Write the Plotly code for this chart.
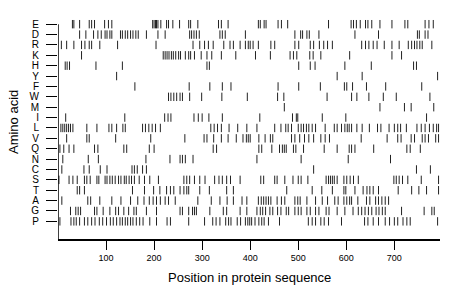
import plotly.graph_objects as go

# amino acids from bottom row to top row
amino_acids = ["P", "G", "A", "T", "S", "C", "N", "Q", "V", "L",
               "I", "M", "W", "F", "Y", "H", "K", "R", "D", "E"]

# positions (residue numbers) of each amino acid in the sequence
pos_E = [30, 33, 45, 65, 70, 76, 97, 105, 112, 197, 200, 203, 205, 208, 214, 226, 230, 239, 253,
         272, 276, 291, 334, 340, 354, 417, 421, 429, 433, 458, 465, 478, 563, 610, 615, 621, 629,
         640, 645, 653, 670, 695, 722, 728, 764, 772, 781]
pos_D = [45, 58, 74, 83, 90, 98, 102, 108, 112, 130, 134, 140, 145, 151, 156, 162, 167, 184, 208,
         223, 274, 278, 283, 288, 294, 337, 342, 348, 390, 493, 505, 509, 518, 523, 543, 618, 667,
         748, 752, 764, 770]
pos_R = [7, 18, 33, 49, 56, 65, 70, 87, 124, 204, 281, 295, 305, 313, 323, 345, 358, 365, 379, 390,
         396, 400, 406, 417, 443, 451, 493, 501, 525, 532, 544, 553, 561, 571, 632, 640, 647, 656,
         664, 679, 695, 710, 729, 736, 742, 747, 753, 758, 778]
pos_K = [49, 219, 223, 227, 231, 236, 240, 245, 251, 255, 265, 272, 276, 284, 298, 310, 320, 340,
         370, 411, 442, 483, 490, 497, 524, 531, 547, 607, 695, 715]
pos_H = [15, 19, 24, 79, 134, 310, 315, 501, 525, 535, 597, 652, 740, 746]
pos_Y = [122, 581, 633, 790]
pos_F = [160, 273, 316, 342, 360, 458, 501, 546, 596, 601, 613, 642, 682, 757]
pos_W = [230, 235, 241, 247, 254, 259, 274, 299, 341, 394, 457, 470, 560, 611, 622, 647, 677, 704, 774]
pos_M = [471, 670, 721, 735, 782]
pos_I = [16, 139, 222, 229, 235, 283, 292, 300, 314, 342, 420, 488, 496, 499, 550, 599, 767]
pos_L = [6, 10, 14, 18, 22, 26, 31, 60, 81, 106, 112, 122, 135, 140, 176, 182, 189, 196, 203, 213,
         318, 325, 332, 340, 356, 374, 393, 414, 451, 464, 474, 479, 486, 500, 506, 511, 517, 522,
         529, 536, 556, 575, 581, 590, 597, 602, 606, 611, 622, 633, 648, 665, 672, 689, 700, 707,
         713, 725, 747, 756, 764, 773, 781, 788, 792]
pos_V = [18, 60, 65, 120, 193, 264, 304, 310, 324, 340, 354, 371, 385, 392, 396, 400, 418, 431, 442,
         447, 486, 493, 503, 513, 522, 532, 547, 556, 565, 631, 685, 707, 714, 735, 742, 758, 764,
         771, 786, 792]
pos_Q = [4, 12, 23, 33, 76, 83, 137, 143, 190, 200, 323, 330, 418, 424, 445, 461, 467, 471, 475,
         490, 495, 511, 554, 581, 606, 611, 618, 657, 726, 733, 754]
pos_N = [10, 63, 84, 183, 233, 254, 259, 265, 281, 414, 506, 604, 692]
pos_C = [8, 54, 65, 88, 102, 154, 159, 165, 176, 184, 532, 746, 775]
pos_S = [2, 23, 31, 40, 55, 60, 67, 81, 85, 98, 102, 108, 113, 119, 126, 131, 138, 142, 148, 153,
         159, 169, 180, 191, 209, 262, 268, 274, 284, 295, 306, 326, 335, 342, 351, 359, 379, 422,
         428, 451, 456, 472, 489, 500, 506, 520, 558, 563, 567, 571, 575, 581, 595, 601, 608, 615,
         625, 699, 704, 710, 717, 728, 756, 792]
pos_T = [40, 45, 55, 155, 180, 199, 212, 226, 234, 241, 254, 262, 268, 272, 295, 315, 351, 365, 476,
         529, 549, 571, 595, 599, 618, 635, 643, 649, 656, 667, 708, 736, 751, 767, 792]
pos_A = [8, 62, 68, 87, 112, 131, 151, 166, 179, 190, 198, 205, 213, 223, 230, 244, 291, 319, 337,
         352, 365, 383, 393, 417, 423, 428, 433, 438, 443, 456, 465, 472, 493, 499, 504, 518, 536,
         550, 561, 576, 583, 595, 601, 607, 611, 624, 642, 649, 661, 667, 674, 681, 688]
pos_G = [26, 37, 42, 47, 76, 81, 94, 108, 120, 126, 137, 147, 158, 163, 184, 205, 254, 259, 272,
         280, 284, 288, 316, 344, 351, 379, 393, 414, 421, 426, 432, 441, 447, 457, 464, 475, 480,
         493, 500, 506, 518, 525, 536, 543, 558, 564, 581, 597, 614, 625, 632, 639, 646, 653, 662,
         668, 675, 681, 715, 762, 778, 783]
pos_P = [4, 27, 33, 38, 45, 55, 62, 70, 77, 86, 93, 101, 109, 115, 122, 129, 134, 140, 145, 151,
         156, 163, 170, 177, 191, 205, 227, 234, 272, 305, 322, 329, 337, 349, 355, 360, 373, 380,
         390, 395, 399, 403, 410, 418, 424, 429, 438, 461, 521, 529, 536, 547, 554, 563, 590, 638,
         645, 656, 667, 681, 690, 700, 707, 718, 726, 733, 790]

seq_length = 795
x_ticks = [100, 200, 300, 400, 500, 600, 700]

positions = {"E": pos_E, "D": pos_D, "R": pos_R, "K": pos_K, "H": pos_H, "Y": pos_Y,
             "F": pos_F, "W": pos_W, "M": pos_M, "I": pos_I, "L": pos_L, "V": pos_V,
             "Q": pos_Q, "N": pos_N, "C": pos_C, "S": pos_S, "T": pos_T, "A": pos_A,
             "G": pos_G, "P": pos_P}

xs, ys = [], []
for i, aa in enumerate(amino_acids):
    for p in positions[aa]:
        xs.append(p)
        ys.append(i)

fig = go.Figure()
fig.add_trace(go.Scatter(
    x=xs, y=ys, mode="markers", cliponaxis=False, hoverinfo="skip",
    marker=dict(symbol="line-ns-open", size=6, color="#222",
                line=dict(color="#222", width=1)),
))

font = "Liberation Sans, Arial, sans-serif"
top = len(amino_acids) - 1
bottom = -1.7

# left axis line runs from the bottom axis up to the top row only
fig.add_shape(type="line", xref="x", yref="y", x0=0, x1=0, y0=bottom, y1=top,
              line=dict(color="black", width=1.5))

fig.update_layout(
    width=460, height=299,
    margin=dict(l=58, r=20, t=19, b=60),
    paper_bgcolor="white", plot_bgcolor="white",
    showlegend=False,
    font=dict(family=font, color="black"),
    xaxis=dict(range=[0, seq_length], tickvals=x_ticks, ticks="outside", ticklen=9,
               tickwidth=1, tickcolor="black", showgrid=False, zeroline=False,
               showline=True, linecolor="black", linewidth=1.5,
               tickfont=dict(size=9, family=font, color="black")),
    yaxis=dict(range=[bottom, top + 0.5], tickvals=list(range(len(amino_acids))),
               ticktext=amino_acids, ticks="outside", ticklen=11, tickwidth=1,
               tickcolor="black", showgrid=False, zeroline=False, showline=False,
               ticklabelstandoff=5,
               tickfont=dict(size=10, family=font, color="black")),
    annotations=[
        dict(text="Position in protein sequence", xref="paper", yref="paper",
             x=0.5, y=-0.173, xanchor="center", yanchor="middle", showarrow=False,
             font=dict(size=13, family=font, color="black")),
        dict(text="Amino acid", xref="paper", yref="paper", textangle=-90,
             x=-0.115, y=0.532, xanchor="center", yanchor="middle", showarrow=False,
             font=dict(size=13, family=font, color="black")),
    ],
)

# drop the page's default body margin so the figure sits at the window's corner
fig.write_html("out.html", config={"displayModeBar": False},
               post_script="document.body.style.margin='0';")
